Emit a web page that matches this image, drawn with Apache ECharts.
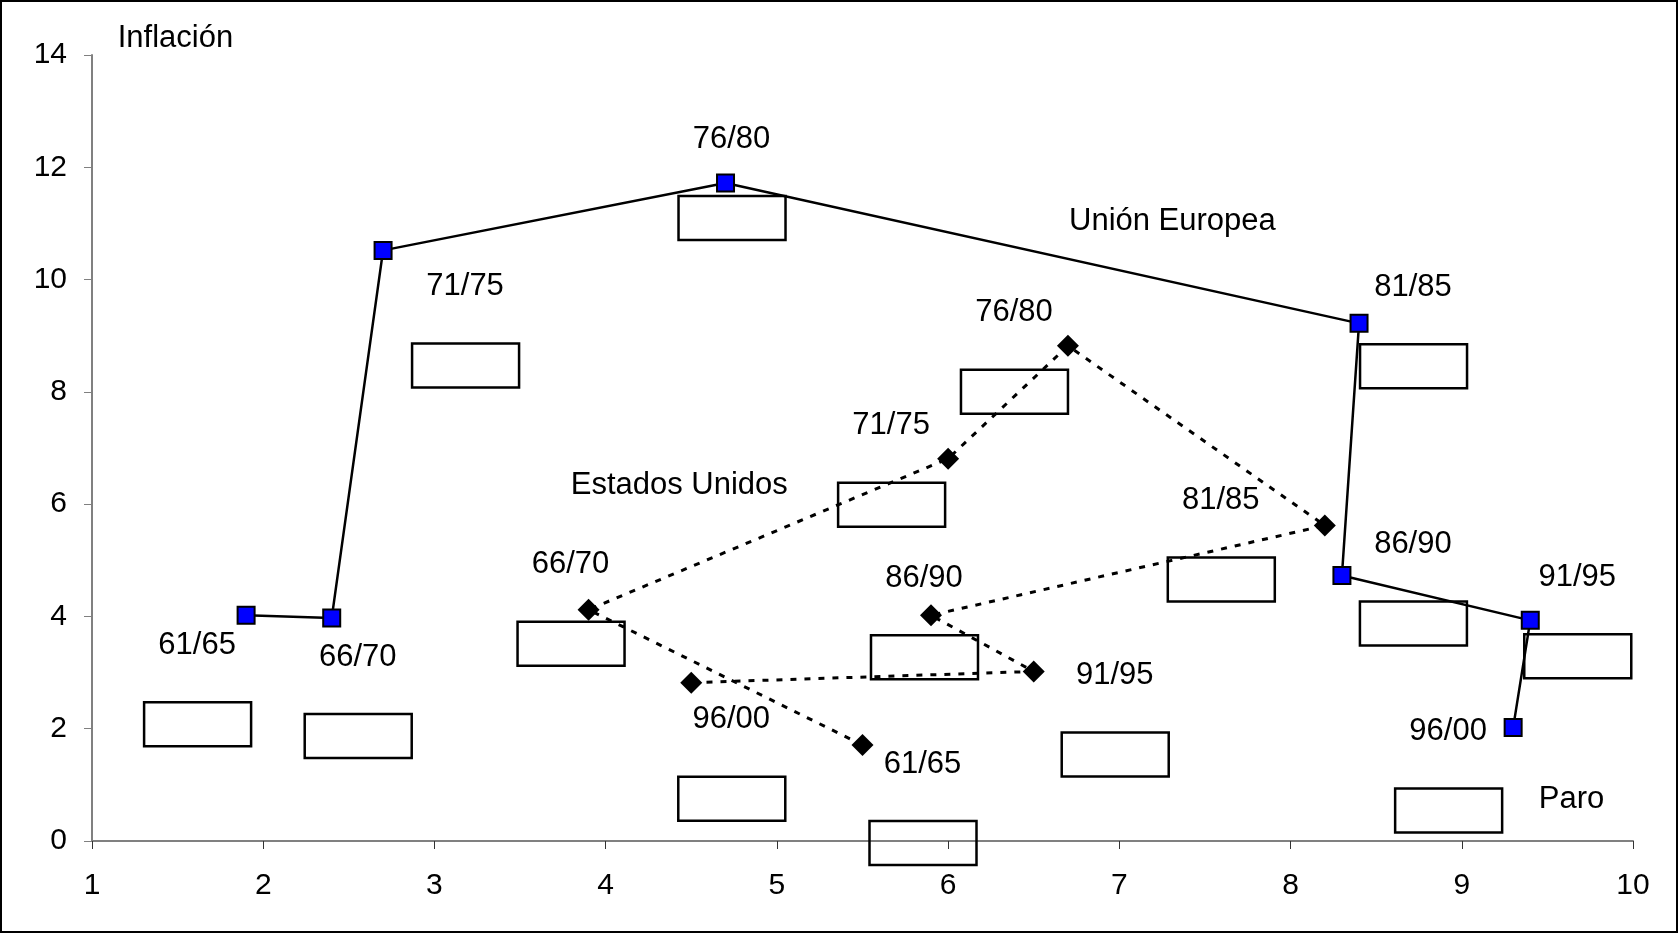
<!DOCTYPE html>
<html>
<head>
<meta charset="utf-8">
<script src="https://cdn.jsdelivr.net/npm/echarts@6/dist/echarts.min.js"></script>
<style>
  html, body { margin: 0; padding: 0; background: #fff; }
  #chart { width: 1678px; height: 933px; }
</style>
</head>
<body>
<div id="chart"></div>
<script>
// periodos
const periods = ["61/65", "66/70", "71/75", "76/80", "81/85", "86/90", "91/95", "96/00"];
// Unión Europea: paro (x) / inflación (y)
const euParo = [1.9, 2.4, 2.7, 4.7, 8.4, 8.3, 9.4, 9.3];
const euInfl = [4.02, 3.97, 10.52, 11.72, 9.22, 4.73, 3.93, 2.02];
// Estados Unidos
const usParo = [5.5, 3.9, 6.0, 6.7, 8.2, 5.9, 6.5, 4.5];
const usInfl = [1.71, 4.12, 6.81, 8.82, 5.62, 4.02, 3.02, 2.82];
// textos sueltos
const notes = ["Inflación", "Paro", "Unión Europea", "Estados Unidos"];
const notesX = [1.15, 9.45, 7.31, 4.43];
const notesY = [14.3, 0.74, 11.03, 6.34];

// layout de las etiquetas (px, respecto al punto)
const euLabelOffset = [[-49, 30], [26, 39], [82, 36], [6, -44], [54, -36], [71, -31], [47, -43], [-65, 4]];
const usLabelOffset = [[60, 19], [-18, -45], [-57, -33], [-54, -33], [-104, -25], [-7, -37], [81, 4], [40, 37]];
const notesAlign = ["left", "left", "center", "center"];

const FONT = "Liberation Sans";
const FS = 31;

function pointSeries(name, xs, ys, offs, opt) {
  return Object.assign({
    name: name,
    type: "line",
    z: 3,
    data: xs.map((x, i) => ({
      value: [x, ys[i]],
      label: { offset: offs[i] },
      name: periods[i]
    })),
    label: {
      show: true,
      position: "inside",
      formatter: p => p.name,
      color: "#000",
      fontFamily: FONT,
      fontSize: FS
    }
  }, opt);
}

// cajas vacias (restos de las etiquetas), debajo de cada etiqueta
function boxSeries(xs, ys, offs) {
  return {
    type: "custom",
    silent: true,
    z: 1,
    data: xs.map((x, i) => [x, ys[i]]),
    renderItem: function (params, api) {
      const p = api.coord([api.value(0), api.value(1)]);
      const o = offs[params.dataIndex];
      return {
        type: "rect",
        shape: { x: p[0] + o[0] - 53, y: p[1] + o[1] + 79 - 22, width: 107, height: 44 },
        style: { fill: "none", stroke: "#000", lineWidth: 2.5 }
      };
    }
  };
}

let chart = echarts.init(document.getElementById("chart"));
let option = {
  animation: false,
  textStyle: { fontFamily: FONT },
  graphic: [{
    type: "rect",
    shape: { x: 1, y: 1, width: 1676, height: 931 },
    style: { fill: "none", stroke: "#000", lineWidth: 2 }
  }],
  grid: { left: 92, right: 45, top: 55, bottom: 92, containLabel: false },
  xAxis: {
    type: "value",
    min: 1,
    max: 10,
    interval: 1,
    splitLine: { show: false },
    axisLine: { onZero: false, lineStyle: { color: "#808080", width: 2 } },
    axisTick: { length: 8, lineStyle: { color: "#333", width: 1 } },
    axisLabel: { color: "#000", fontSize: 30, fontFamily: FONT, margin: 30 }
  },
  yAxis: {
    type: "value",
    min: 0,
    max: 14,
    interval: 2,
    splitLine: { show: false },
    axisLine: { show: true, lineStyle: { color: "#808080", width: 2 } },
    axisTick: { show: true, length: 8, lineStyle: { color: "#808080", width: 1 } },
    axisLabel: { color: "#000", fontSize: 30, fontFamily: FONT, margin: 25 }
  },
  series: [
    boxSeries(euParo, euInfl, euLabelOffset),
    boxSeries(usParo, usInfl, usLabelOffset),
    pointSeries("Estados Unidos", usParo, usInfl, usLabelOffset, {
      symbol: "diamond",
      symbolSize: 22,
      itemStyle: { color: "#000" },
      lineStyle: { color: "#000", width: 3, type: [6, 8] }
    }),
    pointSeries("Unión Europea", euParo, euInfl, euLabelOffset, {
      symbol: "rect",
      symbolSize: 17,
      itemStyle: { color: "#0000ff", borderColor: "#000", borderWidth: 2 },
      lineStyle: { color: "#000", width: 2.5 }
    }),
    {
      type: "scatter",
      clip: false,
      silent: true,
      symbolSize: 0,
      itemStyle: { opacity: 1 },
      data: notes.map((t, i) => ({
        value: [notesX[i], notesY[i]],
        name: t,
        label: { align: notesAlign[i] }
      })),
      label: {
        show: true,
        position: "inside",
        formatter: p => p.name,
        color: "#000",
        opacity: 1,
        textBorderWidth: 0,
        fontFamily: FONT,
        fontSize: FS
      }
    }
  ]
};
chart.setOption(option);
</script>
</body>
</html>
